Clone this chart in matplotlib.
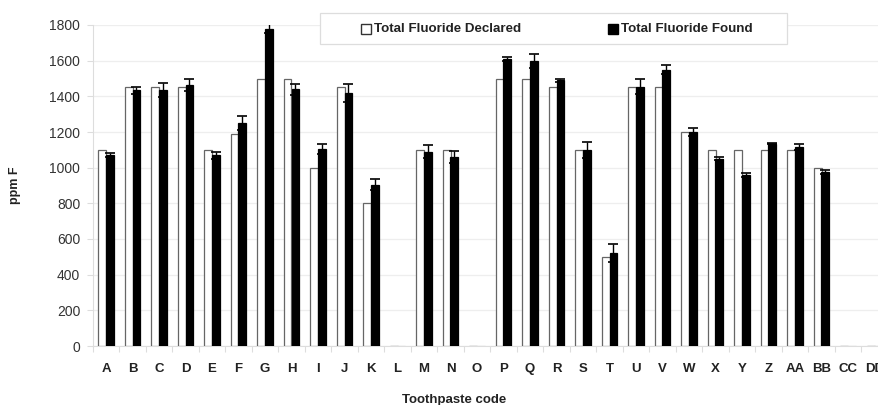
import matplotlib
matplotlib.use("Agg")
import matplotlib.pyplot as plt
import numpy as np
from matplotlib.patches import Rectangle
from matplotlib.lines import Line2D

codes = ["A", "B", "C", "D", "E", "F", "G", "H", "I", "J", "K", "L", "M", "N", "O",
         "P", "Q", "R", "S", "T", "U", "V", "W", "X", "Y", "Z", "AA", "BB", "CC", "DD"]
declared = [1100, 1450, 1450, 1450, 1100, 1190, 1500, 1500, 1000, 1450, 800, 0, 1100, 1100, 0,
            1500, 1500, 1450, 1100, 500, 1450, 1450, 1200, 1100, 1100, 1100, 1100, 1000, 0, 0]
found = [1070, 1435, 1435, 1465, 1070, 1250, 1780, 1440, 1105, 1420, 905, 0, 1090, 1060, 0,
         1610, 1600, 1490, 1100, 520, 1455, 1550, 1200, 1050, 958, 1135, 1115, 975, 0, 0]
found_err = [10, 20, 40, 35, 20, 40, 25, 30, 28, 50, 32, 0, 35, 32, 0,
             10, 40, 10, 45, 50, 40, 25, 20, 8, 12, 5, 18, 10, 0, 0]
yticks = [0, 200, 400, 600, 800, 1000, 1200, 1400, 1600, 1800]

plt.rcParams['font.family'] = ['Liberation Sans', 'DejaVu Sans']

W, H = 879, 405
fig = plt.figure(figsize=(W / 100, H / 100), dpi=100)
left_px, right_px, top_px, bottom_px = 92.75, 887.75, 25, 346
ax = fig.add_axes([left_px / W, 1 - bottom_px / H, (right_px - left_px) / W, (bottom_px - top_px) / H])

x = np.arange(len(codes))
bw = 0.3
found_arr = np.array(found, dtype=float)
err_arr = np.array(found_err, dtype=float)
ax.bar(x - bw / 2, declared, width=bw, color='white', edgecolor='#666666', linewidth=0.9, zorder=3)
fedge = ['#c8c8c8' if v == 0 else 'black' for v in found]
ax.bar(x + bw / 2, found, width=bw, color='black', edgecolor=fedge, linewidth=0.9, zorder=3)
m = found_arr > 0
ax.errorbar((x + bw / 2)[m], found_arr[m], yerr=err_arr[m], fmt='none', ecolor='black',
            elinewidth=1.0, capsize=3.5, capthick=1.2, zorder=4)

ax.set_xlim(-0.5, len(codes) - 0.5)
ax.set_ylim(0, 1800)
ax.set_yticks(yticks)
ax.set_yticklabels([str(v) for v in yticks], fontsize=10, color='#333333')
ax.set_xticks(x)
ax.set_xticklabels(codes, fontsize=9.5, fontweight='bold', color='#222222')
ax.set_xticks(np.arange(-0.5, len(codes), 1), minor=True)
ax.tick_params(axis='x', which='major', length=0, pad=12)
ax.tick_params(axis='x', which='minor', length=4, color='#dddddd', width=0.8)
ax.tick_params(axis='y', length=4, color='#dddddd', width=0.8, pad=5)

ax.grid(axis='y', color='#eeeeee', linewidth=0.9, zorder=0)
for s in ['top', 'right']:
    ax.spines[s].set_visible(False)
for s in ['left', 'bottom']:
    ax.spines[s].set_color('#dddddd')
    ax.spines[s].set_linewidth(0.8)

fig.text(15 / W, 1 - 185 / H, "ppm F", rotation=90, fontsize=9, fontweight='bold',
         ha='center', va='center', color='#222222')
fig.text(454 / W, 1 - 400 / H, "Toothpaste code", fontsize=9.5, fontweight='bold',
         ha='center', va='center', color='#222222')

# legend box
lx0, lx1, ly0, ly1 = 320, 787, 12.7, 44.3
box = Rectangle((lx0 / W, 1 - ly1 / H), (lx1 - lx0) / W, (ly1 - ly0) / H, transform=fig.transFigure,
                facecolor='white', edgecolor='#dddddd', linewidth=0.9, zorder=10)
fig.patches.append(box)
ly = 1 - 29 / H
fig.add_artist(Line2D([366 / W], [ly], marker='s', markersize=7, markerfacecolor='white',
                      markeredgecolor='#333333', markeredgewidth=1.0, linestyle='none', zorder=11))
fig.text(374 / W, ly, "Total Fluoride Declared", fontsize=9.6, fontweight='bold', ha='left',
         va='center', color='#222222', zorder=11)
fig.add_artist(Line2D([613.5 / W], [ly], marker='s', markersize=7, markerfacecolor='black',
                      markeredgecolor='black', markeredgewidth=1.0, linestyle='none', zorder=11))
fig.text(621 / W, ly, "Total Fluoride Found", fontsize=9.6, fontweight='bold', ha='left',
         va='center', color='#222222', zorder=11)

fig.savefig("out.png", dpi=100)
